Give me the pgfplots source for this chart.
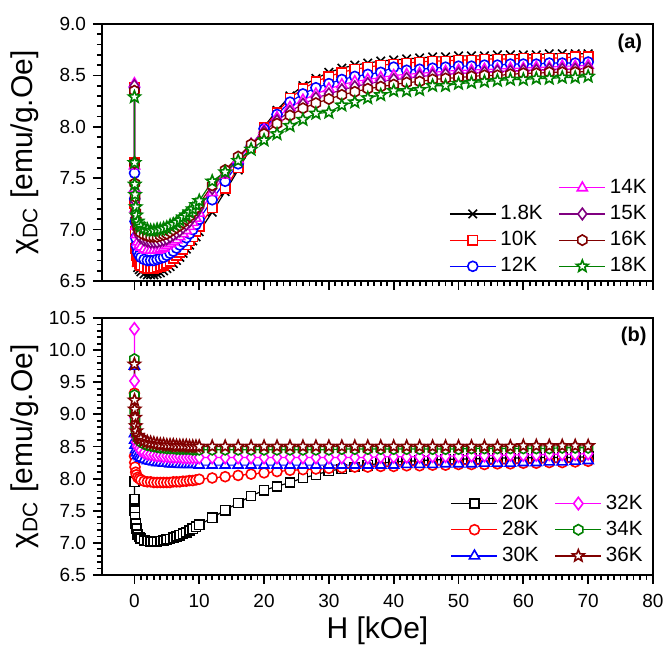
\documentclass[border=0pt]{standalone}
\usepackage{fontspec}
\setmainfont{Liberation Sans}
\usepackage{pgfplots}
\pgfplotsset{compat=1.18}
\usepackage{pgfplotstable}
\usetikzlibrary{plotmarks}

\definecolor{cpurple}{RGB}{128,0,128}
\definecolor{cwine}{RGB}{128,0,0}
\definecolor{cgreen}{RGB}{0,128,0}
\definecolor{cmag}{RGB}{255,0,255}

\pgfdeclareplotmark{hexa}{%
  \pgfpathmoveto{\pgfpointpolar{90}{\pgfplotmarksize}}%
  \pgfpathlineto{\pgfpointpolar{150}{\pgfplotmarksize}}%
  \pgfpathlineto{\pgfpointpolar{210}{\pgfplotmarksize}}%
  \pgfpathlineto{\pgfpointpolar{270}{\pgfplotmarksize}}%
  \pgfpathlineto{\pgfpointpolar{330}{\pgfplotmarksize}}%
  \pgfpathlineto{\pgfpointpolar{30}{\pgfplotmarksize}}%
  \pgfpathclose
  \pgfusepathqfillstroke}
\pgfdeclareplotmark{ostar}{%
  \pgfpathmoveto{\pgfpointpolar{90}{1.15\pgfplotmarksize}}%
  \pgfpathlineto{\pgfpointpolar{126}{0.5\pgfplotmarksize}}%
  \pgfpathlineto{\pgfpointpolar{162}{1.15\pgfplotmarksize}}%
  \pgfpathlineto{\pgfpointpolar{198}{0.5\pgfplotmarksize}}%
  \pgfpathlineto{\pgfpointpolar{234}{1.15\pgfplotmarksize}}%
  \pgfpathlineto{\pgfpointpolar{270}{0.5\pgfplotmarksize}}%
  \pgfpathlineto{\pgfpointpolar{306}{1.15\pgfplotmarksize}}%
  \pgfpathlineto{\pgfpointpolar{342}{0.5\pgfplotmarksize}}%
  \pgfpathlineto{\pgfpointpolar{18}{1.15\pgfplotmarksize}}%
  \pgfpathlineto{\pgfpointpolar{54}{0.5\pgfplotmarksize}}%
  \pgfpathclose
  \pgfusepathqfillstroke}

\pgfplotstableread{
H     t1   t2   t3   t4   t5   t6   t7
0     8.36 8.38 8.38 8.42 8.40 8.35 8.29
0.02  7.60 7.65 7.55 7.62 7.65 7.65 7.65
0.05  7.15 7.25 7.30 7.40 7.44 7.45 7.44
0.1   6.90 6.98 7.08 7.20 7.28 7.32 7.34
0.2   6.75 6.82 6.92 7.03 7.12 7.17 7.22
0.3   6.68 6.75 6.84 6.95 7.04 7.09 7.14
0.5   6.63 6.69 6.78 6.88 6.97 7.02 7.08
0.75  6.61 6.67 6.75 6.85 6.94 6.99 7.05
1.0   6.59 6.65 6.73 6.83 6.92 6.97 7.03
1.5   6.57 6.63 6.71 6.81 6.90 6.95 7.01
2.0   6.56 6.62 6.70 6.80 6.89 6.94 7.00
2.5   6.56 6.62 6.70 6.80 6.88 6.93 6.99
3.0   6.56 6.62 6.70 6.80 6.88 6.93 6.99
3.5   6.57 6.63 6.71 6.80 6.88 6.93 7.00
4.0   6.58 6.64 6.72 6.81 6.89 6.94 7.00
4.5   6.60 6.65 6.73 6.82 6.90 6.95 7.01
5.0   6.62 6.67 6.75 6.84 6.91 6.96 7.02
5.5   6.64 6.69 6.77 6.86 6.93 6.98 7.04
6.0   6.67 6.72 6.79 6.88 6.95 7.00 7.05
6.5   6.70 6.75 6.82 6.90 6.97 7.02 7.07
7.0   6.73 6.78 6.85 6.93 6.99 7.04 7.09
7.5   6.77 6.81 6.88 6.96 7.02 7.07 7.12
8.0   6.81 6.85 6.92 6.99 7.05 7.10 7.14
8.5   6.85 6.89 6.96 7.03 7.08 7.13 7.17
9.0   6.89 6.93 7.00 7.07 7.12 7.17 7.20
9.5   6.93 6.98 7.05 7.11 7.16 7.21 7.24
10    6.98 7.03 7.10 7.16 7.21 7.25 7.28
12    7.17 7.21 7.29 7.36 7.40 7.43 7.47
14    7.37 7.40 7.47 7.53 7.56 7.58 7.56
16    7.58 7.60 7.64 7.68 7.70 7.71 7.67
18    7.80 7.80 7.81 7.83 7.83 7.83 7.78
20    8.00 7.99 7.98 7.97 7.95 7.93 7.87
22    8.16 8.14 8.12 8.09 8.06 8.03 7.93
24    8.30 8.28 8.24 8.19 8.15 8.11 8.01
26    8.40 8.37 8.32 8.26 8.22 8.18 8.07
28    8.47 8.44 8.38 8.32 8.28 8.23 8.13
30    8.53 8.49 8.42 8.37 8.32 8.27 8.14
32    8.57 8.53 8.46 8.41 8.36 8.31 8.21
34    8.60 8.56 8.49 8.44 8.39 8.34 8.24
36    8.62 8.58 8.51 8.46 8.42 8.37 8.28
38    8.64 8.60 8.53 8.48 8.44 8.39 8.31
40    8.65 8.61 8.58 8.50 8.46 8.41 8.35
42    8.66 8.62 8.55 8.51 8.47 8.43 8.35
44    8.67 8.63 8.56 8.52 8.49 8.44 8.36
46    8.68 8.64 8.57 8.53 8.50 8.46 8.40
48    8.68 8.64 8.58 8.54 8.51 8.47 8.40
50    8.69 8.65 8.59 8.55 8.52 8.48 8.42
52    8.69 8.65 8.59 8.55 8.52 8.49 8.43
54    8.69 8.66 8.60 8.56 8.53 8.50 8.44
56    8.70 8.66 8.60 8.56 8.54 8.50 8.45
58    8.70 8.66 8.61 8.57 8.54 8.51 8.46
60    8.70 8.67 8.61 8.57 8.55 8.52 8.46
62    8.70 8.67 8.61 8.58 8.55 8.52 8.47
64    8.71 8.67 8.62 8.58 8.56 8.53 8.47
66    8.71 8.67 8.62 8.59 8.56 8.53 8.48
68    8.71 8.68 8.62 8.59 8.56 8.53 8.48
70    8.71 8.68 8.63 8.60 8.57 8.54 8.49
}\topdata

\pgfplotstableread{
H     b1   b2   b3   b4    b5   b6
0     7.95 9.33 9.75 10.33 9.86 9.78
0.02  7.68 8.35 8.70 9.52  9.30 9.22
0.05  7.50 8.25 8.60 8.95  9.05 9.08
0.1   7.40 8.18 8.52 8.80  8.90 8.95
0.2   7.30 8.10 8.45 8.65  8.78 8.82
0.3   7.22 8.06 8.40 8.57  8.70 8.74
0.5   7.13 8.02 8.36 8.50  8.63 8.67
0.75  7.09 8.00 8.34 8.47  8.60 8.64
1.0   7.07 7.98 8.32 8.44  8.57 8.62
1.5   7.04 7.96 8.30 8.41  8.54 8.59
2.0   7.03 7.95 8.28 8.39  8.52 8.57
2.5   7.02 7.95 8.27 8.38  8.51 8.56
3.0   7.02 7.94 8.26 8.37  8.50 8.55
3.5   7.02 7.94 8.25 8.36  8.49 8.54
4.0   7.03 7.94 8.25 8.36  8.48 8.53
4.5   7.04 7.94 8.24 8.35  8.48 8.53
5.0   7.05 7.94 8.24 8.35  8.47 8.52
5.5   7.06 7.94 8.23 8.34  8.47 8.52
6.0   7.08 7.95 8.23 8.34  8.47 8.52
6.5   7.10 7.95 8.23 8.34  8.46 8.51
7.0   7.12 7.95 8.22 8.34  8.46 8.51
7.5   7.14 7.96 8.22 8.33  8.46 8.51
8.0   7.16 7.96 8.22 8.33  8.46 8.51
8.5   7.19 7.97 8.22 8.33  8.46 8.50
9.0   7.22 7.97 8.22 8.33  8.45 8.50
9.5   7.25 7.98 8.22 8.33  8.45 8.50
10    7.28 7.99 8.21 8.33  8.45 8.50
12    7.39 8.01 8.21 8.33  8.45 8.50
14    7.51 8.03 8.21 8.33  8.45 8.50
16    7.62 8.05 8.21 8.33  8.45 8.50
18    7.73 8.07 8.21 8.33  8.45 8.50
20    7.82 8.09 8.21 8.33  8.45 8.50
22    7.88 8.11 8.21 8.33  8.45 8.50
24    7.94 8.13 8.21 8.33  8.45 8.50
26    8.01 8.14 8.21 8.33  8.45 8.50
28    8.06 8.15 8.21 8.33  8.45 8.50
30    8.12 8.16 8.21 8.33  8.45 8.50
32    8.15 8.17 8.21 8.33  8.46 8.50
34    8.18 8.18 8.21 8.33  8.46 8.50
36    8.21 8.18 8.21 8.33  8.46 8.50
38    8.24 8.19 8.21 8.34  8.46 8.50
40    8.26 8.19 8.21 8.34  8.46 8.50
42    8.27 8.20 8.22 8.34  8.46 8.50
44    8.28 8.20 8.22 8.34  8.46 8.50
46    8.29 8.21 8.22 8.35  8.46 8.50
48    8.30 8.21 8.23 8.35  8.46 8.50
50    8.30 8.22 8.23 8.35  8.46 8.50
52    8.31 8.22 8.23 8.36  8.47 8.50
54    8.31 8.22 8.24 8.36  8.47 8.50
56    8.32 8.23 8.24 8.36  8.47 8.50
58    8.32 8.23 8.24 8.37  8.47 8.50
60    8.32 8.24 8.25 8.37  8.47 8.51
62    8.33 8.24 8.25 8.37  8.47 8.51
64    8.33 8.25 8.26 8.38  8.47 8.51
66    8.33 8.25 8.26 8.38  8.48 8.51
68    8.33 8.26 8.27 8.38  8.48 8.51
70    8.34 8.27 8.28 8.39  8.48 8.51
}\botdata

\pgfplotsset{
  panel/.style={
    scale only axis, width=275.5pt, height=128.5pt,
    xmin=-5, xmax=80, xtick={0,10,...,80}, minor x tick num=9,
    minor y tick num=4,
    tick align=outside, xtick pos=left, ytick pos=left,
    major tick length=4.5pt, minor tick length=2.5pt,
    every tick/.style={black, line width=0.9pt},
    axis line style={line width=1.2pt},
    tick label style={font=\fontsize{9.5}{11}\selectfont},
    xticklabel style={inner sep=0pt, yshift=-4.7pt},
    /pgf/number format/assume math mode=true,
    scaled ticks=false,
    yticklabel style={/pgf/number format/.cd, fixed, fixed zerofill, precision=1},
    every axis y label/.style={at={(axis description cs:-0.14,0.5)}, rotate=90, anchor=center,
      inner sep=0pt, font=\fontsize{15}{18}\selectfont},
    ylabel={χ\textsubscript{DC} [emu/g.Oe]},
    clip=false,
    legend cell align=left,
    legend columns=2,
    legend style={at={(axis description cs:1,0)}, anchor=south east, draw=none, fill=none,
      font=\fontsize{10.3}{12}\selectfont, row sep=0.4pt, inner sep=0pt,
      /tikz/every even column/.append style={column sep=6pt}},
    legend image code/.code={\draw[mark repeat=2,mark phase=2] plot coordinates {(0pt,0pt) (11.5pt,0pt) (23pt,0pt)};},
    every axis plot/.append style={line width=0.6pt, mark options={solid, fill=white, line width=0.8pt}},
  },
  sA/.style={black, mark=x, mark size=3pt},
  sB/.style={red, mark=square*, mark size=2.3pt},
  sC/.style={blue, mark=*, mark size=2.5pt},
  sD/.style={cmag, mark=triangle*, mark size=2.9pt},
  sE/.style={cpurple, mark=diamond*, mark size=2.9pt},
  sF/.style={cwine, mark=hexa, mark size=2.6pt},
  sG/.style={cgreen, mark=ostar, mark size=2.7pt},
  bA/.style={black, mark=square*, mark size=2.3pt},
  bB/.style={red, mark=*, mark size=2.5pt},
  bC/.style={blue, mark=triangle*, mark size=2.9pt},
  bD/.style={cmag, mark=diamond*, mark size=3.1pt},
  bE/.style={cgreen, mark=hexa, mark size=2.6pt},
  bF/.style={cwine, mark=ostar, mark size=2.7pt},
}

\begin{document}
\begin{tikzpicture}
\begin{axis}[panel, ymin=6.5, ymax=9.0, ytick={6.5,7,7.5,8,8.5,9}, xticklabels={},
  legend style={xshift=-1pt, yshift=0.8pt}]
\addplot[sA, forget plot] table[x=H, y=t1] {\topdata};
\addplot[sB, forget plot] table[x=H, y=t2] {\topdata};
\addplot[sC, forget plot] table[x=H, y=t3] {\topdata};
\addplot[sD, forget plot] table[x=H, y=t4] {\topdata};
\addplot[sE, forget plot] table[x=H, y=t5] {\topdata};
\addplot[sF, forget plot] table[x=H, y=t6] {\topdata};
\addplot[sG, forget plot] table[x=H, y=t7] {\topdata};
\addlegendimage{empty legend}\addlegendentry{}
\addlegendimage{sD}\addlegendentry{14K}
\addlegendimage{sA}\addlegendentry{1.8K}
\addlegendimage{sE}\addlegendentry{15K}
\addlegendimage{sB}\addlegendentry{10K}
\addlegendimage{sF}\addlegendentry{16K}
\addlegendimage{sC}\addlegendentry{12K}
\addlegendimage{sG}\addlegendentry{18K}
\node[font=\bfseries\fontsize{10}{12}\selectfont] at (rel axis cs:0.958,0.925) {(a)};
\end{axis}
\begin{axis}[panel, at={(0pt,-147pt)}, ymin=6.5, ymax=10.5, ytick={6.5,7,7.5,8,8.5,9,9.5,10,10.5},
  xlabel={H [kOe]},
  every axis x label/.style={at={(axis description cs:0.5,0)}, yshift=-28pt, anchor=center,
      inner sep=0pt, font=\fontsize{15}{18}\selectfont},
  legend style={xshift=-3pt, yshift=3pt}]
\addplot[bA, forget plot] table[x=H, y=b1] {\botdata};
\addplot[bB, forget plot] table[x=H, y=b2] {\botdata};
\addplot[bC, forget plot] table[x=H, y=b3] {\botdata};
\addplot[bD, forget plot] table[x=H, y=b4] {\botdata};
\addplot[bE, forget plot] table[x=H, y=b5] {\botdata};
\addplot[bF, forget plot] table[x=H, y=b6] {\botdata};
\addlegendimage{bA}\addlegendentry{20K}
\addlegendimage{bD}\addlegendentry{32K}
\addlegendimage{bB}\addlegendentry{28K}
\addlegendimage{bE}\addlegendentry{34K}
\addlegendimage{bC}\addlegendentry{30K}
\addlegendimage{bF}\addlegendentry{36K}
\node[font=\bfseries\fontsize{10}{12}\selectfont] at (rel axis cs:0.965,0.93) {(b)};
\end{axis}
\path (-51pt,-183.5pt) rectangle (282pt,140.5pt);
\end{tikzpicture}
\end{document}
